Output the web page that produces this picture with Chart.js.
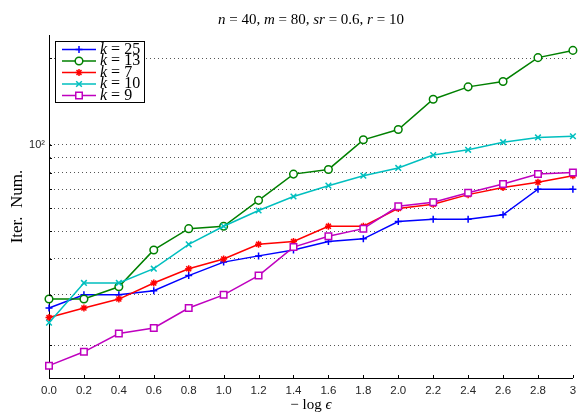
<!DOCTYPE html>
<html>
<head>
<meta charset="utf-8">
<script src="https://cdn.jsdelivr.net/npm/chart.js@4.4.0/dist/chart.umd.min.js"></script>
<style>body{margin:0;background:#fff}</style>
</head>
<body>
<canvas id="chart" width="579" height="415"></canvas>
<script>
//========================= data ===========================
var eps = [0.0, 0.2, 0.4, 0.6, 0.8, 1.0, 1.2, 1.4, 1.6, 1.8, 2.0, 2.2, 2.4, 2.6, 2.8, 3.0];
var xTickLabels = ['0.0', '0.2', '0.4', '0.6', '0.8', '1.0', '1.2', '1.4', '1.6', '1.8', '2.0', '2.2', '2.4', '2.6', '2.8', '3'];
var yGridValues = [20, 30, 40, 50, 60, 70, 80, 90, 100, 200];
var kValues = [25, 13, 7, 10, 9];

var k25 = [27, 30, 30, 31, 35, 39, 41, 43, 46, 47, 54, 55, 55, 57, 70, 70];
var k13 = [29, 29, 32, 43, 51, 52, 64, 79, 82, 104, 113, 144, 159, 166, 201, 213];
var k7  = [25, 27, 29, 33, 37, 40, 45, 46, 52, 52, 60, 62, 67, 71, 74, 78];
var k10 = [24, 33, 33, 37, 45, 52, 59, 66, 72, 78, 83, 92, 96, 102, 106, 107];
var k9  = [17, 19, 22, 23, 27, 30, 35, 44, 48, 51, 61, 63, 68, 73, 79, 80];

var serif = '"Liberation Serif", "DejaVu Serif", serif';

function pts(arr) {
    return arr.map(function (v, i) { return { x: eps[i], y: v }; });
}

function series(k, arr, color, style, radius, fill, order) {
    return {
        label: 'k = ' + k,
        data: pts(arr),
        borderColor: color,
        backgroundColor: color,
        borderWidth: 1.5,
        pointStyle: style,
        pointRadius: radius,
        pointBorderWidth: 1.5,
        pointBorderColor: color,
        pointBackgroundColor: fill,
        tension: 0,
        clip: false,
        order: order
    };
}

// draws text made of italic / roman pieces, centred on cx
function drawRuns(ctx, runs, size, cx, cy, alignLeft) {
    var total = 0;
    runs.forEach(function (r) {
        ctx.font = (r[1] ? 'italic ' : '') + size + 'px ' + serif;
        r.w = ctx.measureText(r[0]).width;
        total += r.w;
    });
    var x = alignLeft ? cx : cx - total / 2;
    ctx.textBaseline = 'middle';
    ctx.textAlign = 'left';
    runs.forEach(function (r) {
        ctx.font = (r[1] ? 'italic ' : '') + size + 'px ' + serif;
        ctx.fillText(r[0], x, cy);
        x += r.w;
    });
}

//========================= extras: inward ticks, title, labels, legend ===========================
var extras = {
    id: 'extras',
    afterDraw: function (chart) {
        var ctx = chart.ctx, a = chart.chartArea;
        var xs = chart.scales.x, ys = chart.scales.y;
        ctx.save();
        ctx.strokeStyle = '#000';
        ctx.lineWidth = 1;
        ctx.beginPath();
        eps.forEach(function (v) {
            var px = Math.round(xs.getPixelForValue(v)) + 0.5;
            ctx.moveTo(px, a.bottom);
            ctx.lineTo(px, a.bottom - 3);
        });
        yGridValues.forEach(function (v) {
            var py = Math.round(ys.getPixelForValue(v)) + 0.5;
            ctx.moveTo(a.left, py);
            ctx.lineTo(a.left + 3, py);
        });
        ctx.stroke();

        ctx.fillStyle = '#000';
        var cx = (a.left + a.right) / 2;
        drawRuns(ctx, [['n', 1], [' = 40, ', 0], ['m', 1], [' = 80, ', 0], ['sr', 1], [' = 0.6, ', 0], ['r', 1], [' = 10', 0]], 15, cx, 20);
        drawRuns(ctx, [['\u2212 log ', 0], ['\u03f5', 1]], 15, cx, 405);

        ctx.save();
        ctx.translate(18, (a.top + a.bottom) / 2);
        ctx.rotate(-Math.PI / 2);
        drawRuns(ctx, [['Iter.  Num.', 0]], 17, 0, 0);
        ctx.restore();

        // legend
        var bx = 55.5, by = 41.5, bw = 89, bh = 61;
        ctx.fillStyle = '#fff';
        ctx.fillRect(bx, by, bw, bh);
        ctx.strokeStyle = '#000';
        ctx.lineWidth = 1;
        ctx.strokeRect(bx, by, bw, bh);
        chart.data.datasets.forEach(function (ds, i) {
            var y = 49.5 + i * 11.5;
            ctx.strokeStyle = ds.borderColor;
            ctx.lineWidth = 1.5;
            ctx.beginPath();
            ctx.moveTo(62, y);
            ctx.lineTo(96, y);
            ctx.stroke();
            ctx.fillStyle = ds.pointBackgroundColor;
            Chart.helpers.drawPoint(ctx, {
                pointStyle: ds.pointStyle,
                radius: ds.pointRadius,
                borderWidth: 1.5,
                rotation: 0
            }, 79, y);
            ctx.fillStyle = '#000';
            drawRuns(ctx, [['k', 1], [' = ' + kValues[i], 0]], 16, 100, y, true);
        });
        ctx.restore();
    }
};

//========================= chart ===========================
var chrt = document.getElementById('chart').getContext('2d');
var chartId = new Chart(chrt, {
    type: 'line',
    data: {
        datasets: [
            series(kValues[0], k25, '#0000ff', 'cross', 3.5, '#0000ff', 4),
            series(kValues[1], k13, '#008000', 'circle', 3.8, '#ffffff', 3),
            series(kValues[2], k7, '#ff0000', 'star', 3.5, '#ff0000', 2),
            series(kValues[3], k10, '#00bfbf', 'crossRot', 4, '#00bfbf', 1),
            series(kValues[4], k9, '#bf00bf', 'rect', 4.6, '#ffffff', 0)
        ]
    },
    options: {
        responsive: false,
        animation: false,
        events: [],
        layout: { padding: { top: 35, right: 5, left: 0, bottom: 0 } },
        plugins: {
            legend: { display: false },
            tooltip: { enabled: false },
            title: { display: false }
        },
        scales: {
            x: {
                type: 'linear',
                min: 0,
                max: 3,
                afterBuildTicks: function (s) {
                    s.ticks = eps.map(function (v) { return { value: v }; });
                },
                afterFit: function (s) {
                    s.height = 37;
                    s.paddingLeft = 0;
                    s.paddingRight = 0;
                },
                ticks: {
                    autoSkip: false,
                    maxRotation: 0,
                    padding: 6,
                    color: '#262626',
                    font: { family: '"Liberation Sans", Arial, sans-serif', size: 11.5 },
                    callback: function (v, i) { return xTickLabels[i]; }
                },
                grid: { drawOnChartArea: false, drawTicks: false },
                border: { color: '#000', width: 1 }
            },
            y: {
                type: 'logarithmic',
                min: 15.4,
                max: 241,
                afterBuildTicks: function (s) {
                    s.ticks = yGridValues.map(function (v) { return { value: v }; });
                },
                afterFit: function (s) {
                    s.width = 49;
                    s.paddingTop = 0;
                    s.paddingBottom = 0;
                },
                ticks: {
                    autoSkip: false,
                    padding: 4,
                    color: '#262626',
                    font: { family: '"Liberation Sans", Arial, sans-serif', size: 11 },
                    callback: function (v) { return v === 100 ? '10\u00b2' : ''; }
                },
                grid: { drawTicks: false, color: '#555', lineWidth: 1 },
                border: { color: '#000', width: 1, dash: [1, 3] }
            }
        }
    },
    plugins: [extras]
});
</script>
</body>
</html>
